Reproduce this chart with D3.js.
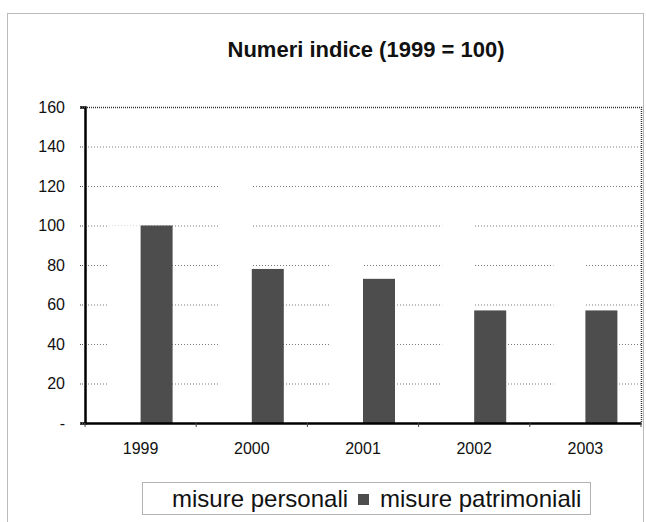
<!DOCTYPE html>
<html>
<head>
<meta charset="utf-8">
<script src="https://cdn.jsdelivr.net/npm/d3@7"></script>
<style>
  body { margin: 0; background: #fff; }
  svg { font-family: "Liberation Sans", Arial, sans-serif; }
  .grid line { stroke: #7a7a7a; stroke-dasharray: 1,2; }
  .axis text { fill: #111; font-size: 16px; }
</style>
</head>
<body>
<div id="chart"></div>
<script>
// values
var years = ["1999", "2000", "2001", "2002", "2003"];
var seriesNames = ["misure personali", "misure patrimoniali"];
var personali = [100, 121, 88, 110, 85];
var patrimoniali = [100, 78, 73, 57, 57];
var yTicks = [0, 20, 40, 60, 80, 100, 120, 140, 160];
var title = "Numeri indice (1999 = 100)";

var _width = 646, _height = 522;
var _left = 85, _right = 641, _top = 107, _bottom = 423;
var colors = ["#ffffff", "#4d4d4d"];

var svg = d3.select("#chart").append("svg")
    .attr("width", _width)
    .attr("height", _height);

// outer dotted frame
svg.append("rect")
    .attr("x", 7.5).attr("y", 13.5)
    .attr("width", 636).attr("height", 540)
    .attr("fill", "none")
    .attr("stroke", "#777")
    .attr("stroke-dasharray", "1,1");

svg.append("text")
    .attr("x", 366).attr("y", 57)
    .attr("text-anchor", "middle")
    .attr("font-size", "22px")
    .attr("font-weight", "bold")
    .attr("fill", "#111")
    .text(title);

var x = d3.scaleBand()
    .domain(years)
    .range([_left, _right])
    .paddingInner(0.4245)
    .paddingOuter(0.4245 / 2);

var xs = d3.scaleBand()
    .domain(seriesNames)
    .range([0, x.bandwidth()]);

var y = d3.scaleLinear()
    .domain([0, 160])
    .range([_bottom, _top]);

// gridlines
svg.append("g").attr("class", "grid")
    .selectAll("line")
    .data(yTicks.filter(function (d) { return d > 0 && d < 160; }))
    .enter().append("line")
    .attr("x1", _left).attr("x2", _right)
    .attr("y1", function (d) { return y(d) + 0.5; })
    .attr("y2", function (d) { return y(d) + 0.5; });

// plot frame top and right
svg.append("path")
    .attr("d", "M" + _left + "," + (_top + 0.5) + "H" + (_right + 0.5) + "V" + _bottom)
    .attr("fill", "none")
    .attr("stroke", "#333")
    .attr("stroke-width", 1.5)
    .attr("stroke-dasharray", "1,1");

var table = years.map(function (yr, i) {
  return {year: yr, values: [personali[i], patrimoniali[i]]};
});

var groups = svg.append("g").selectAll("g")
    .data(table)
    .enter().append("g")
    .attr("transform", function (d) { return "translate(" + x(d.year) + ",0)"; });

groups.selectAll("rect")
    .data(function (d) {
      return d.values.map(function (v, j) { return {name: seriesNames[j], value: v, k: j}; });
    })
    .enter().append("rect")
    .attr("x", function (d) { return xs(d.name); })
    .attr("width", xs.bandwidth())
    .attr("y", function (d) { return y(d.value); })
    .attr("height", function (d) { return y(0) - y(d.value); })
    .attr("fill", function (d) { return colors[d.k]; });

// y axis
var yAxis = d3.axisLeft(y)
    .tickValues(yTicks)
    .tickSize(5)
    .tickPadding(15)
    .tickFormat(function (d) { return d === 0 ? "-" : d; });

var gy = svg.append("g").attr("class", "axis")
    .attr("transform", "translate(" + _left + ",0)")
    .call(yAxis);
gy.select(".domain").attr("stroke", "#000").attr("stroke-width", 2.5);
gy.selectAll(".tick line").attr("stroke", "#555").attr("stroke-dasharray", "1,1");

// x axis
var xAxis = d3.axisBottom(x)
    .tickSize(0)
    .tickPadding(20);

var gx = svg.append("g").attr("class", "axis")
    .attr("transform", "translate(0," + _bottom + ")")
    .call(xAxis);
gx.select(".domain").attr("stroke", "#000").attr("stroke-width", 2.5);

// small ticks at band boundaries
gx.selectAll("line.sep")
    .data(years.concat(["end"]))
    .enter().append("line")
    .attr("class", "sep")
    .attr("x1", function (d, i) { return _left + i * x.step(); })
    .attr("x2", function (d, i) { return _left + i * x.step(); })
    .attr("y1", 0).attr("y2", 4)
    .attr("stroke", "#444");

// legend
var legend = svg.append("g");
legend.append("rect")
    .attr("x", 142.5).attr("y", 482.5)
    .attr("width", 448).attr("height", 32)
    .attr("fill", "#fff")
    .attr("stroke", "#666")
    .attr("stroke-dasharray", "1,1");

var legendX = [150, 358];
var textX = [172, 380];
seriesNames.forEach(function (name, i) {
  legend.append("rect")
      .attr("x", legendX[i]).attr("y", 494)
      .attr("width", 11).attr("height", 11)
      .attr("fill", colors[i]);
  legend.append("text")
      .attr("x", textX[i]).attr("y", 507)
      .attr("font-size", "24px")
      .attr("fill", "#111")
      .text(name);
});
</script>
</body>
</html>
